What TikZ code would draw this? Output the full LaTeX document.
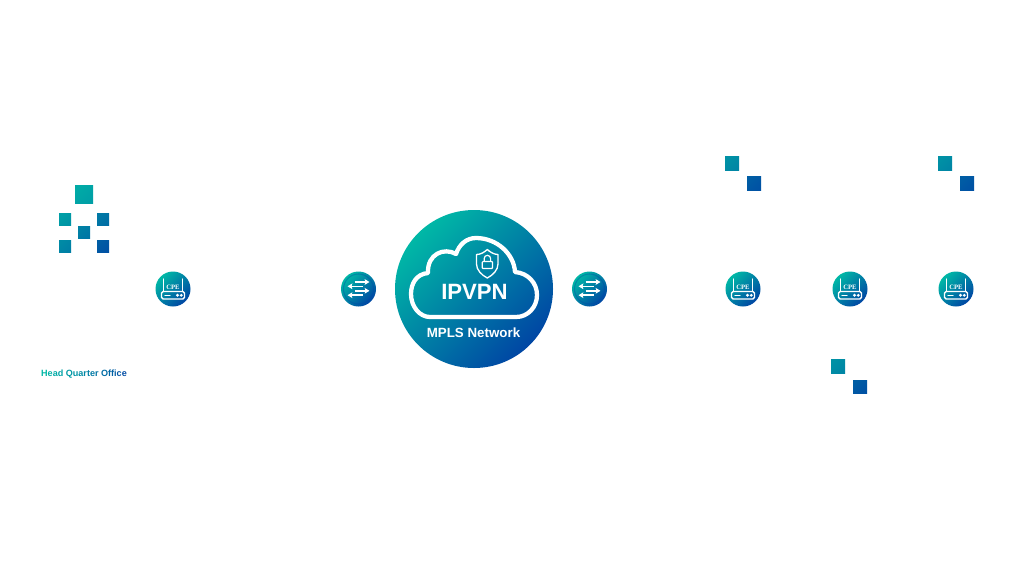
\documentclass[tikz,border=0pt]{standalone}
\usepackage{fontspec}
\setmainfont{Liberation Sans}
\newfontfamily\cpefont{Liberation Serif}
\usetikzlibrary{arrows.meta}
\definecolor{gA}{HTML}{00B8A6}
\definecolor{gB}{HTML}{0046A4}
\tikzset{
  x=0.75pt,y=-0.75pt,
  gradfill/.style={top color=gA,bottom color=gB,shading angle=45,draw=none},
  disc/.style={circle,gradfill,inner sep=0pt,minimum size=#1*0.75pt},
  sq/.style n args={2}{top color=#1,bottom color=#2,shading angle=45,draw=none},
  iconline/.style={draw=white,line width=1pt,line cap=round,line join=round},
  flow/.style={draw=white,line width=1.1pt,-{Stealth[length=3.6pt,width=4.2pt,inset=0.6pt]}},
  cpe/.pic={
    \node[disc=35] (-disc) at (0,0) {};
    \draw[iconline] (-9.5,2) -- (-9.5,-10) (9.5,2) -- (9.5,-10);
    \draw[iconline,rounded corners=1.2pt] (-11.5,2.5) rectangle (11.5,10);
    \draw[iconline] (-8,6.3) -- (-3,6.3);
    \fill[white] (4.5,6.3) circle (1.6) (8.3,6.3) circle (1.6);
    \node[text=white,inner sep=0pt,font=\cpefont\bfseries\fontsize{5}{5}\selectfont] (-label) at (0,-1.2) {CPE};
  },
  flowicon/.pic={
    \node[disc=35] (-disc) at (0,0) {};
    \draw[draw=gB,opacity=0.35,line width=0.8pt] (0,0) circle (15);
    \draw[flow] (-4,-7) -- (11,-7);
    \draw[flow] (4,-2.7) -- (-11,-2.7);
    \draw[flow] (-4,1.8) -- (11,1.8);
    \draw[flow] (4,6.2) -- (-11,6.2);
  },
}
\newcommand{\grad}[2]{\textcolor{gB!#2!gA}{#1}}
\begin{document}
\begin{tikzpicture}
\useasboundingbox (0,0) rectangle (1024,576);
\fill[white] (0,0) rectangle (1024,576);
% central disc
\node[disc=158] (core) at (474,289) {};
\draw[white,line width=3.2pt,line join=round] (430,317) -- (516,317)
  .. controls (528,317) and (537,307) .. (537,295)
  .. controls (537,283) and (528,273) .. (515,272)
  .. controls (514,254) and (497,238) .. (476,238)
  .. controls (466,238) and (459,245) .. (456,254)
  .. controls (444,247) and (427,254) .. (428,273)
  .. controls (416,274) and (411,284) .. (411,294)
  .. controls (411,307) and (420,317) .. (430,317) -- cycle;
\draw[white,line width=1pt,line join=round] (487.3,249.5)
  .. controls (490,252) and (494,254.5) .. (498,254.5)
  -- (498,264) .. controls (498,270) and (493,275) .. (487.3,278)
  .. controls (481.5,275) and (476.500,270) .. (476.500,264) -- (476.500,254.5)
  .. controls (481,254.5) and (484.5,252) .. (487.3,249.5) -- cycle;
\draw[white,line width=0.9pt,rounded corners=0.6pt] (482.3,261.5) rectangle (492.5,268.5);
\draw[white,line width=0.9pt] (484.2,261.5) -- (484.2,258.5) arc (180:360:3.2) -- (490.6,261.5);
\node[text=white,inner sep=0pt,font=\bfseries\fontsize{16.6}{17}\selectfont] (ipvpn) at (474.5,291.5) {IPVPN};
\node[text=white,inner sep=0pt,font=\bfseries\fontsize{10}{11}\selectfont] (mpls) at (473.5,333) {MPLS Network};
% icons
\pic (cpeHQ) at (173,289) {cpe};
\pic (swL) at (358.5,289) {flowicon};
\pic (swR) at (589.5,289) {flowicon};
\pic (cpeA) at (743,289) {cpe};
\pic (cpeB) at (850,289) {cpe};
\pic (cpeC) at (956,289) {cpe};
% headquarter squares
\shade[sq={gA!88!gB}{gA!78!gB}] (75,185) rectangle (93,203);
\shade[sq={gA!78!gB}{gA!68!gB}] (59,213) rectangle (71,225);
\shade[sq={gA!45!gB}{gA!35!gB}] (97,213) rectangle (109,225);
\shade[sq={gA!52!gB}{gA!42!gB}] (78,226) rectangle (90,238);
\shade[sq={gA!60!gB}{gA!50!gB}] (59,240) rectangle (71,252);
\shade[sq={gA!20!gB}{gA!10!gB}] (97,240) rectangle (109,252);
% branch squares
\shade[sq={gA!66!gB}{gA!56!gB}] (725,156) rectangle (739,170);
\shade[sq={gA!20!gB}{gA!10!gB}] (747,176.500) rectangle (761,190);
\shade[sq={gA!66!gB}{gA!56!gB}] (938,156) rectangle (952,170);
\shade[sq={gA!20!gB}{gA!10!gB}] (960,176.500) rectangle (974,190);
\shade[sq={gA!66!gB}{gA!56!gB}] (831,359) rectangle (845,373);
\shade[sq={gA!20!gB}{gA!10!gB}] (853,380) rectangle (867,393.500);
% caption
\node[inner sep=0pt,font=\bfseries\fontsize{6.8}{8}\selectfont] (hq) at (84,374.5) {\grad{H}{0}\grad{e}{6}\grad{a}{12}\grad{d}{18} \grad{Q}{26}\grad{u}{32}\grad{a}{38}\grad{r}{44}\grad{t}{49}\grad{e}{54}\grad{r}{60} \grad{O}{67}\grad{f}{73}\grad{f}{77}\grad{i}{81}\grad{c}{87}\grad{e}{95}};
\end{tikzpicture}
\end{document}
